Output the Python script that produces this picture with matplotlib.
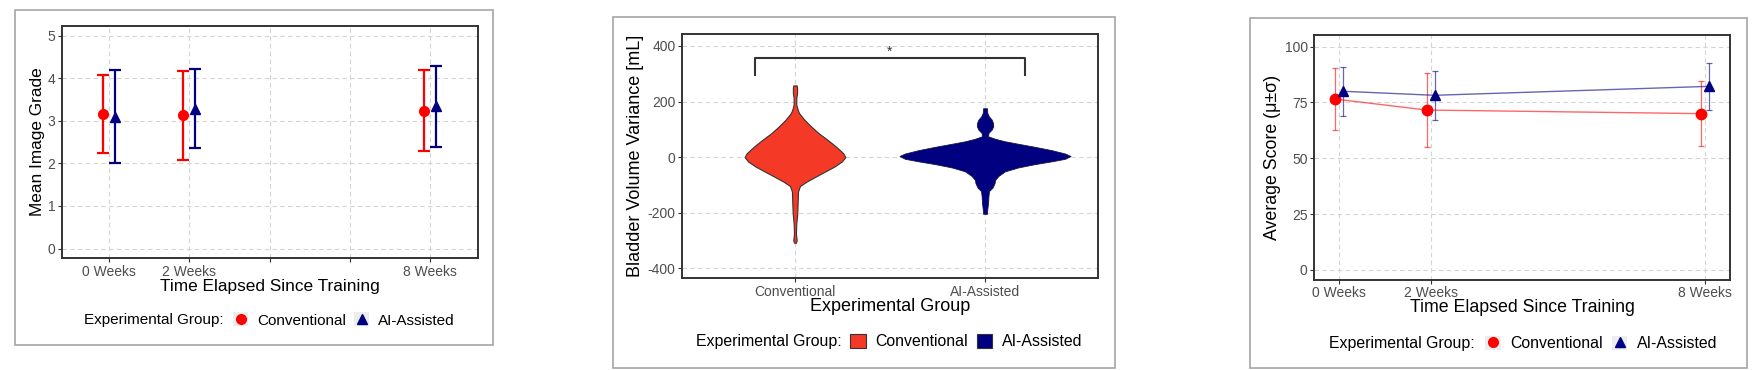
import matplotlib
matplotlib.use("Agg")
import matplotlib.pyplot as plt
from matplotlib.patches import Rectangle, Patch
from matplotlib.lines import Line2D

plt.rcParams['font.family'] = ['Liberation Sans', 'DejaVu Sans']
plt.rcParams['axes.unicode_minus'] = False

W, H = 1758, 370

# ---- data ----
weeks = [0, 2, 8]
week_labels = ["0 Weeks", "2 Weeks", "8 Weeks"]
groups = ["Conventional", "AI-Assisted"]

# mean image grade (mean +- sd)
grade_conv_mean = [3.16, 3.13, 3.24]
grade_conv_sd = [0.92, 1.05, 0.95]
grade_ai_mean = [3.10, 3.29, 3.34]
grade_ai_sd = [1.09, 0.92, 0.95]

# average score (mean +- sd)
score_conv_mean = [76.5, 71.6, 70.0]
score_conv_sd = [13.8, 16.5, 14.5]
score_ai_mean = [80.0, 78.2, 82.2]
score_ai_sd = [10.9, 11.0, 10.6]

# violin outlines: volume [mL] and half width
conv_violin_y = [-308, -299, -275, -239, -202, -166, -124, -104, -88, -70, -52, -34,
                 -16, 0, 14, 39, 63, 87, 111, 135, 159, 171, 189, 213, 231, 249, 258]
conv_violin_w = [0.005, 0.009, 0.005, 0.007, 0.012, 0.014, 0.016, 0.026, 0.061, 0.109,
                 0.158, 0.207, 0.246, 0.265, 0.254, 0.214, 0.170, 0.123, 0.084, 0.049,
                 0.021, 0.014, 0.007, 0.007, 0.011, 0.011, 0.009]
ai_violin_y = [-204, -187, -164, -140, -122, -110, -94, -82, -68, -51, -37, -25, -15,
               -6, 4, 13, 25, 37, 48, 57, 66, 75, 87, 99, 111, 123, 135, 147, 159, 176]
ai_violin_w = [0.010, 0.012, 0.016, 0.018, 0.021, 0.039, 0.050, 0.053, 0.070, 0.105,
               0.175, 0.263, 0.351, 0.421, 0.450, 0.421, 0.351, 0.263, 0.175, 0.105,
               0.053, 0.016, 0.018, 0.035, 0.043, 0.042, 0.035, 0.020, 0.012, 0.010]
bracket_x = [0.79, 2.21]
bracket_y = [297, 356]
star_y = 378

RED = "#FF0000"
NAVY = "#000080"
VIOLIN_RED = "#F43A26"


def px_axes(fig, x0, y0, x1, y1):
    return fig.add_axes([x0 / W, 1 - y1 / H, (x1 - x0) / W, (y1 - y0) / H])


def style(ax):
    for s in ax.spines.values():
        s.set_color("#333333")
        s.set_linewidth(1.4)
    ax.grid(True, color="#D4D4D4", linestyle=(0, (4, 3)), linewidth=0.8)
    ax.set_axisbelow(True)
    ax.tick_params(colors="#333333", labelcolor="#4D4D4D", labelsize=10,
                   length=3, width=0.8, pad=1.5)


def labels(ax, xlabel, ylabel, xl_y, yl_x, size):
    ax.set_xlabel(xlabel, fontsize=size)
    ax.set_ylabel(ylabel, fontsize=size)
    ax.xaxis.label.set_va("center")
    ax.yaxis.label.set_va("center")
    ax.xaxis.set_label_coords(0.5, xl_y)
    ax.yaxis.set_label_coords(yl_x, 0.5)


def box(fig, x0, y0, x1, y1):
    fig.add_artist(Rectangle((x0 / W, 1 - y1 / H), (x1 - x0) / W, (y1 - y0) / H,
                             transform=fig.transFigure, fill=False,
                             ec="#A5A5A5", lw=1.2))


def legend(fig, handles, title_right, key_left, y, size, pad, colsp):
    fig.text(title_right / W, 1 - y / H, "Experimental Group:", ha="right",
             va="center", fontsize=size)
    fig.legend(handles, groups, loc="center left",
               bbox_to_anchor=(key_left / W, 1 - y / H),
               bbox_transform=fig.transFigure, ncol=2, frameon=False,
               fontsize=size, handlelength=1.0, handleheight=1.0,
               handletextpad=pad, columnspacing=colsp, borderpad=0,
               borderaxespad=0)


fig = plt.figure(figsize=(W / 100, H / 100), dpi=100)

# ---- panel 1: mean image grade ----
box(fig, 15, 10, 493, 345)
ax1 = px_axes(fig, 61.7, 25.7, 478.3, 258.3)
style(ax1)
d1 = 0.15
ax1.errorbar([w - d1 for w in weeks], grade_conv_mean, yerr=grade_conv_sd,
             fmt="o", color=RED, ms=7, elinewidth=1.6, capsize=4, capthick=1.6)
ax1.errorbar([w + d1 for w in weeks], grade_ai_mean, yerr=grade_ai_sd,
             fmt="^", color=NAVY, ms=7, elinewidth=1.6, capsize=4, capthick=1.6)
ax1.set_xlim(-1.19, 9.21)
ax1.set_ylim(-0.23, 5.24)
ax1.set_xticks([0, 2, 4, 6, 8])
ax1.set_xticklabels([week_labels[0], week_labels[1], "", "", week_labels[2]])
ax1.set_yticks([0, 1, 2, 3, 4, 5])
labels(ax1, "Time Elapsed Since Training", "Mean Image Grade", -0.122, -0.059, 12.4)
key_bg = Rectangle((0, 0), 1, 1, fc="#EDEDED", ec="none")
legend(fig, [(key_bg, Line2D([], [], marker="o", ls="", color=RED, ms=7)),
             (key_bg, Line2D([], [], marker="^", ls="", color=NAVY, ms=7))],
       224, 233, 320, 11, 0.6, 0.5)

# ---- panel 2: bladder volume variance ----
box(fig, 612.7, 17.3, 1115, 368)
ax2 = px_axes(fig, 681.7, 34.3, 1098.3, 278.3)
style(ax2)
ax2.fill_betweenx(conv_violin_y, [1 - w for w in conv_violin_w],
                  [1 + w for w in conv_violin_w], fc=VIOLIN_RED, ec="#333333", lw=0.8)
ax2.fill_betweenx(ai_violin_y, [2 - w for w in ai_violin_w],
                  [2 + w for w in ai_violin_w], fc=NAVY, ec="#15153F", lw=0.6)
ax2.plot([bracket_x[0], bracket_x[0], bracket_x[1], bracket_x[1]],
         [bracket_y[0], bracket_y[1], bracket_y[1], bracket_y[0]],
         color="#333333", lw=1.5)
ax2.text(sum(bracket_x) / 2, star_y, "*", ha="center", va="center",
         fontsize=10, color="#333333")
ax2.set_xlim(0.404, 2.596)
ax2.set_ylim(-436, 442)
ax2.set_xticks([1, 2])
ax2.set_xticklabels(groups)
ax2.set_yticks([-400, -200, 0, 200, 400])
labels(ax2, "Experimental Group", "Bladder Volume Variance [mL]", -0.116, -0.112, 13)
legend(fig, [Patch(fc=VIOLIN_RED, ec="#333333", lw=0.8),
             Patch(fc=NAVY, ec="#333333", lw=0.8)],
       841.7, 850, 341.7, 11.4, 0.6, 0.55)

# ---- panel 3: average score ----
box(fig, 1250, 18.3, 1746.7, 368)
ax3 = px_axes(fig, 1314, 35, 1730, 280)
style(ax3)
d3 = 0.085
ax3.errorbar([w - d3 for w in weeks], score_conv_mean, yerr=score_conv_sd,
             fmt="-", color=RED, alpha=0.6, lw=1.0, elinewidth=0.9,
             capsize=2.5, capthick=0.9)
ax3.errorbar([w + d3 for w in weeks], score_ai_mean, yerr=score_ai_sd,
             fmt="-", color=NAVY, alpha=0.6, lw=1.0, elinewidth=0.9,
             capsize=2.5, capthick=0.9)
ax3.plot([w - d3 for w in weeks], score_conv_mean, "o", color=RED, ms=7.5)
ax3.plot([w + d3 for w in weeks], score_ai_mean, "^", color=NAVY, ms=7.5)
ax3.set_xlim(-0.554, 8.555)
ax3.set_ylim(-4.5, 105.2)
ax3.set_xticks(weeks)
ax3.set_xticklabels(week_labels)
ax3.set_yticks([0, 25, 50, 75, 100])
labels(ax3, "Time Elapsed Since Training", "Average Score (μ±σ)", -0.114, -0.099, 12.8)
legend(fig, [(key_bg, Line2D([], [], marker="o", ls="", color=RED, ms=7)),
             (key_bg, Line2D([], [], marker="^", ls="", color=NAVY, ms=7))],
       1475, 1485, 343.3, 11.4, 0.6, 0.55)

fig.savefig("out.png", dpi=100, facecolor="white")
